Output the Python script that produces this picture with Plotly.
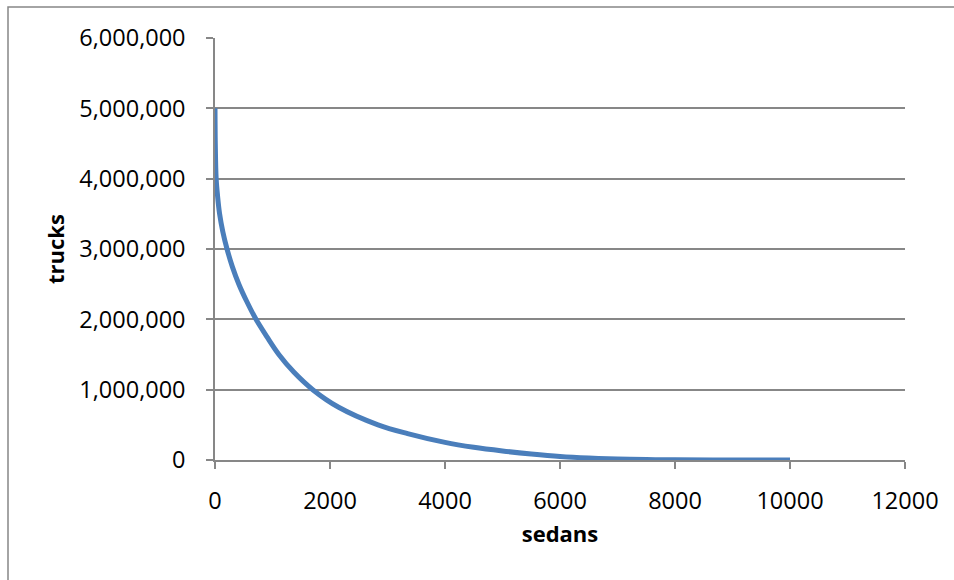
import plotly.graph_objects as go

# values
sedans = [0, 5, 20, 45, 80, 135, 209, 301, 415, 555, 713, 904, 1110, 1370,
          1700, 2150, 2835, 3350, 4000, 4500, 5000, 5500, 6000, 6500, 7000,
          7500, 8000, 9000, 10000]
trucks = [5000000, 4500000, 4000000, 3750000, 3500000, 3250000, 3000000,
          2750000, 2500000, 2250000, 2000000, 1750000, 1500000, 1250000,
          1000000, 750000, 500000, 375000, 250000, 180000, 128000, 85000,
          50000, 28000, 14000, 6000, 2500, 300, 0]

x_ticks = [0, 2000, 4000, 6000, 8000, 10000, 12000]
y_ticks = [0, 1000000, 2000000, 3000000, 4000000, 5000000, 6000000]

grid = '#878787'
font = 'Open Sans'

fig = go.Figure()
fig.add_trace(go.Scatter(x=sedans, y=trucks, mode='lines',
                         line=dict(color='#4a7ebb', width=5, shape='spline',
                                   smoothing=1.0),
                         showlegend=False, hoverinfo='x+y'))

fig.update_xaxes(range=[0, 12000], tickvals=x_ticks,
                 ticktext=[str(v) for v in x_ticks],
                 showgrid=False, zeroline=False,
                 showline=True, linecolor=grid, linewidth=1.5,
                 ticks='outside', ticklen=7, tickcolor=grid, tickwidth=1.5,
                 ticklabelstandoff=12,
                 tickfont=dict(family=font, size=23.5, color='#000'),
                 title=dict(text='<b>sedans</b>', standoff=12,
                            font=dict(family=font, size=22, color='#000')))
fig.update_yaxes(range=[0, 6000000], tickvals=y_ticks,
                 ticktext=[f'{v:,}' for v in y_ticks],
                 showgrid=True, gridcolor=grid, gridwidth=1.5,
                 zeroline=False,
                 showline=True, linecolor=grid, linewidth=1.5,
                 ticks='outside', ticklen=7, tickcolor=grid, tickwidth=1.5,
                 ticklabelstandoff=16,
                 tickfont=dict(family=font, size=23.5, color='#000'),
                 title=dict(text='<b>trucks</b>', standoff=9,
                            font=dict(family=font, size=22, color='#000')))

# outer chart border (runs past the right and bottom edges)
fig.add_shape(type='rect', xref='paper', yref='paper',
              x0=(8 - 215) / 690, x1=(962 - 215) / 690,
              y0=(460 - 590) / 422, y1=(460 - 7) / 422,
              line=dict(color=grid, width=1.5), layer='below')

fig.update_layout(width=954, height=580,
                  margin=dict(l=215, r=49, t=38, b=120),
                  plot_bgcolor='white', paper_bgcolor='white')

fig.write_html('out.html', config={'displayModeBar': False},
               post_script="document.body.style.margin='0px';")
